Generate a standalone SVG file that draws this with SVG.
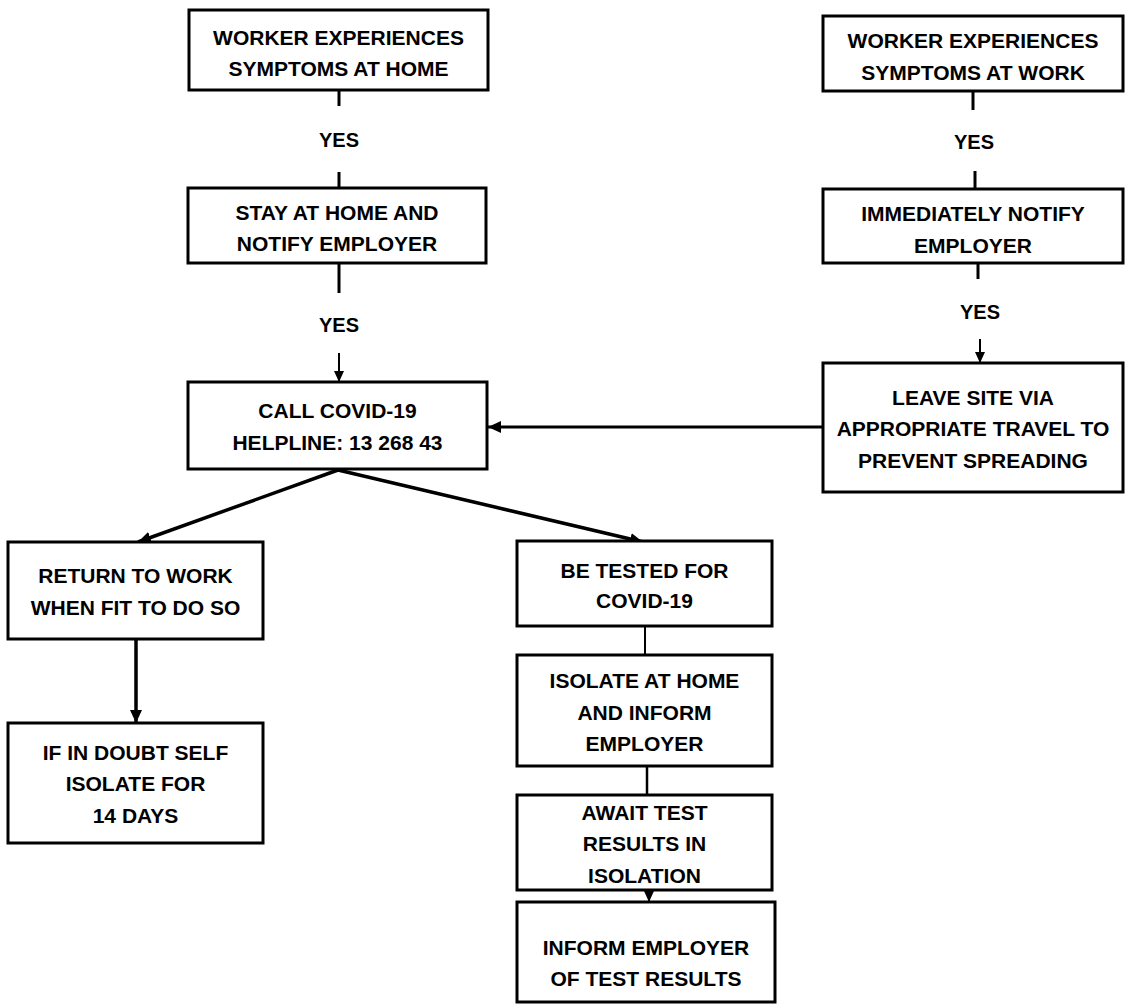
<svg xmlns="http://www.w3.org/2000/svg" width="1131" height="1006" viewBox="0 0 1131 1006">
<style>
.box{fill:#fff;stroke:#000;stroke-width:3}
.t{font-family:"Liberation Sans",Arial,sans-serif;font-weight:bold;font-size:21px;text-anchor:middle;fill:#000}
.y{font-family:"Liberation Sans",Arial,sans-serif;font-weight:bold;font-size:20px;text-anchor:middle;fill:#000}
.c{stroke:#000;fill:none}
</style>
<defs>
<marker id="ah" markerUnits="userSpaceOnUse" markerWidth="14" markerHeight="12" refX="13" refY="6" orient="auto">
<path d="M0,0 L13,6 L0,12 Z" fill="#000"/>
</marker>
<marker id="ahs" markerUnits="userSpaceOnUse" markerWidth="12" markerHeight="10" refX="11" refY="5" orient="auto">
<path d="M0,0 L11,5 L0,10 Z" fill="#000"/>
</marker>
</defs>
<g id="connectors">
<line class="c" x1="339" y1="90" x2="339" y2="106" stroke-width="3"/>
<line class="c" x1="339" y1="172" x2="339" y2="188" stroke-width="3"/>
<line class="c" x1="339" y1="263" x2="339" y2="293" stroke-width="3"/>
<line class="c" x1="339" y1="353" x2="339" y2="382" stroke-width="2" marker-end="url(#ahs)"/>
<line class="c" x1="973" y1="91" x2="973" y2="110" stroke-width="3"/>
<line class="c" x1="975" y1="171" x2="975" y2="189" stroke-width="3"/>
<line class="c" x1="978" y1="263" x2="978" y2="279" stroke-width="3"/>
<line class="c" x1="980" y1="339" x2="980" y2="363" stroke-width="2" marker-end="url(#ahs)"/>
<line class="c" x1="823" y1="427" x2="488" y2="427" stroke-width="3" marker-end="url(#ah)"/>
<line class="c" x1="338" y1="470" x2="138" y2="542" stroke-width="3.5" marker-end="url(#ah)"/>
<line class="c" x1="338" y1="470" x2="643" y2="542" stroke-width="3.5" marker-end="url(#ah)"/>
<line class="c" x1="136" y1="639" x2="136" y2="723" stroke-width="3.5" marker-end="url(#ah)"/>
<line class="c" x1="645" y1="626" x2="645" y2="655" stroke-width="2"/>
<line class="c" x1="647" y1="766" x2="647" y2="795" stroke-width="2.5"/>
<line class="c" x1="649" y1="890" x2="649" y2="902" stroke-width="2" marker-end="url(#ahs)"/>
<text class="y" x="339" y="147">YES</text>
<text class="y" x="339" y="332">YES</text>
<text class="y" x="974" y="149">YES</text>
<text class="y" x="980" y="319">YES</text>
</g>
<g id="n-home">
<rect class="box" x="189" y="10" width="299" height="80"/>
<text class="t" x="338.5" y="45">WORKER EXPERIENCES</text>
<text class="t" x="338.5" y="76">SYMPTOMS AT HOME</text>
</g>
<g id="n-stay">
<rect class="box" x="188" y="188" width="298" height="75"/>
<text class="t" x="337" y="220">STAY AT HOME AND</text>
<text class="t" x="337" y="251">NOTIFY EMPLOYER</text>
</g>
<g id="n-call">
<rect class="box" x="188" y="382" width="299" height="87"/>
<text class="t" x="337.5" y="418">CALL COVID-19</text>
<text class="t" x="337.5" y="450">HELPLINE: 13 268 43</text>
</g>
<g id="n-work">
<rect class="box" x="823" y="16" width="300" height="75"/>
<text class="t" x="973" y="48">WORKER EXPERIENCES</text>
<text class="t" x="973" y="80">SYMPTOMS AT WORK</text>
</g>
<g id="n-notify">
<rect class="box" x="823" y="189" width="300" height="74"/>
<text class="t" x="973" y="221">IMMEDIATELY NOTIFY</text>
<text class="t" x="973" y="253">EMPLOYER</text>
</g>
<g id="n-leave">
<rect class="box" x="823" y="363" width="300" height="129"/>
<text class="t" x="973" y="405">LEAVE SITE VIA</text>
<text class="t" x="973" y="436">APPROPRIATE TRAVEL TO</text>
<text class="t" x="973" y="468">PREVENT SPREADING</text>
</g>
<g id="n-return">
<rect class="box" x="8" y="542" width="255" height="97"/>
<text class="t" x="135.5" y="583">RETURN TO WORK</text>
<text class="t" x="135.5" y="615">WHEN FIT TO DO SO</text>
</g>
<g id="n-doubt">
<rect class="box" x="8" y="723" width="255" height="120"/>
<text class="t" x="135.5" y="760">IF IN DOUBT SELF</text>
<text class="t" x="135.5" y="791">ISOLATE FOR</text>
<text class="t" x="135.5" y="823">14 DAYS</text>
</g>
<g id="n-test">
<rect class="box" x="517" y="541" width="255" height="85"/>
<text class="t" x="644.5" y="578">BE TESTED FOR</text>
<text class="t" x="644.5" y="608">COVID-19</text>
</g>
<g id="n-isolate">
<rect class="box" x="517" y="655" width="255" height="111"/>
<text class="t" x="644.5" y="688">ISOLATE AT HOME</text>
<text class="t" x="644.5" y="720">AND INFORM</text>
<text class="t" x="644.5" y="751">EMPLOYER</text>
</g>
<g id="n-await">
<rect class="box" x="517" y="795" width="255" height="95"/>
<text class="t" x="644.5" y="820">AWAIT TEST</text>
<text class="t" x="644.5" y="851">RESULTS IN</text>
<text class="t" x="644.5" y="883">ISOLATION</text>
</g>
<g id="n-inform">
<rect class="box" x="517" y="902" width="258" height="100"/>
<text class="t" x="646" y="955">INFORM EMPLOYER</text>
<text class="t" x="646" y="986">OF TEST RESULTS</text>
</g>
</svg>
